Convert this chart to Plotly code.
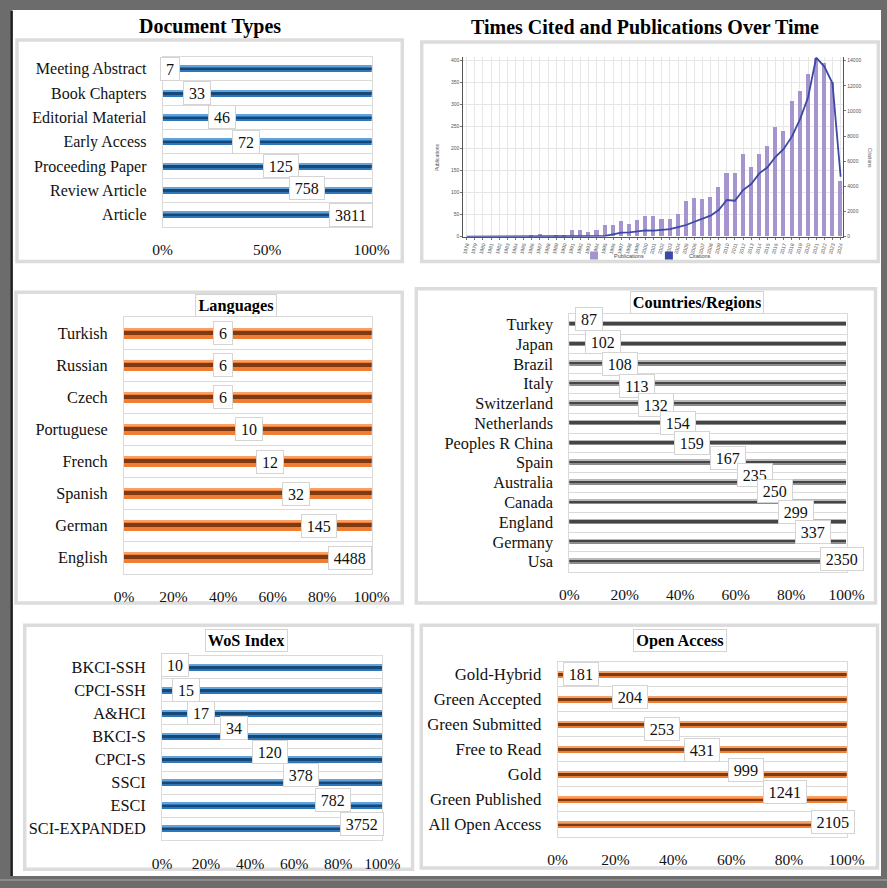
import plotly.graph_objects as go

W, H = 887, 888

# ---------------- DATA ----------------
doc_types = ["Meeting Abstract", "Book Chapters", "Editorial Material", "Early Access",
             "Proceeding Paper", "Review Article", "Article"]
doc_counts = [7, 33, 46, 72, 125, 758, 3811]
doc_share = [3.7, 16.4, 28.2, 40.0, 56.6, 68.9, 90.0]

languages = ["Turkish", "Russian", "Czech", "Portuguese", "French", "Spanish", "German", "English"]
lang_counts = [6, 6, 6, 10, 12, 32, 145, 4488]
lang_share = [39.8, 39.8, 40.0, 50.6, 59.0, 69.4, 78.6, 91.4]

countries = ["Turkey", "Japan", "Brazil", "Italy", "Switzerland", "Netherlands", "Peoples R China",
             "Spain", "Australia", "Canada", "England", "Germany", "Usa"]
country_counts = [87, 102, 108, 113, 132, 154, 159, 167, 235, 250, 299, 337, 2350]
country_share = [7.1, 12.3, 18.3, 24.3, 31.1, 39.3, 44.4, 57.3, 66.8, 74.0, 81.6, 88.0, 98.4]

wos_index = ["BKCI-SSH", "CPCI-SSH", "A&HCI", "BKCI-S", "CPCI-S", "SSCI", "ESCI", "SCI-EXPANDED"]
wos_counts = [10, 15, 17, 34, 120, 378, 782, 3752]
wos_share = [5.7, 11.0, 17.5, 32.5, 49.0, 63.0, 77.5, 91.0]

open_access = ["Gold-Hybrid", "Green Accepted", "Green Submitted", "Free to Read", "Gold",
               "Green Published", "All Open Access"]
oa_counts = [181, 204, 253, 431, 999, 1241, 2105]
oa_share = [8.2, 25.1, 36.2, 49.9, 65.2, 78.7, 95.2]

years = list(range(1978, 2025))
publications = [0, 0, 0, 0, 0, 0, 0, 0, 2, 6, 0, 2, 3, 14, 14, 10, 15, 25, 25, 34, 28, 37, 46, 46,
                40, 40, 50, 80, 87, 85, 90, 113, 143, 143, 188, 158, 188, 205, 248, 240, 307, 330,
                370, 405, 395, 350, 127]
citations = [0, 0, 0, 0, 0, 0, 0, 0, 0, 0, 0, 0, 0, 0, 0, 0, 0, 60, 185, 320, 345, 450, 500, 480,
             560, 610, 770, 930, 1190, 1400, 1670, 2120, 2920, 2860, 3710, 4190, 5040, 5520, 6360,
             6980, 7960, 9340, 11090, 14250, 13530, 12200, 4770]

pct_ticks_doc = [0, 50, 100]
pct_ticks = [0, 20, 40, 60, 80, 100]
pub_ticks = [0, 50, 100, 150, 200, 250, 300, 350, 400]
cite_ticks = [0, 2000, 4000, 6000, 8000, 10000, 12000, 14000]

# ---------------- helpers ----------------
def fx(x):
    return x / W

def fy(y):
    return 1 - y / H

SERIF = "Liberation Serif, Times New Roman, serif"
SANS = "Liberation Sans, Arial, sans-serif"

fig = go.Figure()
shapes = []
annotations = []
layout_axes = {}

BLUE = dict(base="#2e77bb", stripe="#164878", hi="#62a3dc")
ORANGE = dict(base="#ee7e33", stripe="#7e3a10", hi="#f5a26a")
GRAY = dict(base="#8c8c8c", stripe="#454545", hi="#b8b8b8")

panels = [
    dict(k=1, cats=doc_types, counts=doc_counts, share=doc_share, col=BLUE,
         box=(162.7, 371.7, 56.6, 226.8), bar_px=6.5, ticks=pct_ticks_doc, cat_font=16,
         lab_font=16, dy=[0, 0, 0, 0, 0, 2, 0]),
    dict(k=3, cats=languages, counts=lang_counts, share=lang_share, col=ORANGE,
         box=(124.0, 371.7, 317.3, 573.7), bar_px=11, ticks=pct_ticks, cat_font=16.3,
         lab_font=16, dy=[0] * 8),
    dict(k=4, cats=countries, counts=country_counts, share=country_share, col=GRAY,
         box=(569.3, 846.7, 314.4, 571.6), bar_px=5, ticks=pct_ticks, cat_font=16.3,
         lab_font=16, dy=[5, 2, 0, -2, -2, 0, 0, 5, 8, 11, 10, 10, 3]),
    dict(k=5, cats=wos_index, counts=wos_counts, share=wos_share, col=BLUE,
         box=(162.0, 382.3, 655.8, 840.2), bar_px=6.5, ticks=pct_ticks, cat_font=16.3,
         lab_font=16, dy=[2, 0, 0, 8, 8, 8, 6, 5]),
    dict(k=6, cats=open_access, counts=oa_counts, share=oa_share, col=ORANGE,
         box=(557.7, 846.7, 661.5, 836.8), bar_px=6.5, ticks=pct_ticks, cat_font=16.8,
         lab_font=16.3, dy=[0, 2, -5, -1, 4, 7, 2]),
]

for p in panels:
    k = p["k"]
    xa = "x" if k == 1 else f"x{k}"
    ya = "y" if k == 1 else f"y{k}"
    n = len(p["cats"])
    rows = list(range(n))
    x0, x1, y0, y1 = p["box"]
    row_px = (y1 - y0) / n
    w = p["bar_px"] / row_px
    seg_y = rows + rows
    seg_x = list(p["share"]) + [100 - s for s in p["share"]]
    seg_base = [0] * n + list(p["share"])
    c = p["col"]
    fig.add_bar(y=seg_y, x=seg_x, base=seg_base, orientation="h", width=w,
                marker=dict(color=c["base"], line=dict(width=0)),
                xaxis=xa, yaxis=ya, showlegend=False, hoverinfo="skip")
    fig.add_bar(y=seg_y, x=seg_x, base=seg_base, orientation="h", width=w * 0.22,
                offset=-w / 2, marker=dict(color=c["hi"], line=dict(width=0)),
                xaxis=xa, yaxis=ya, showlegend=False, hoverinfo="skip")
    fig.add_bar(y=seg_y, x=seg_x, base=seg_base, orientation="h", width=w * 0.38,
                marker=dict(color=c["stripe"], line=dict(width=0)),
                xaxis=xa, yaxis=ya, showlegend=False, hoverinfo="skip")

    kx = "xaxis" if k == 1 else f"xaxis{k}"
    ky = "yaxis" if k == 1 else f"yaxis{k}"
    layout_axes[kx] = dict(
        domain=[fx(x0), fx(x1)], anchor=ya, range=[0, 100], tickvals=p["ticks"],
        ticktext=[f"{t}%" for t in p["ticks"]], showgrid=False, zeroline=False,
        showline=True, mirror=True,
        linecolor="#dadada", linewidth=1, tickfont=dict(family=SERIF, size=15.5, color="#111"),
        ticklabelstandoff=9, fixedrange=True)
    layout_axes[ky] = dict(
        domain=[fy(y1), fy(y0)], anchor=xa, range=[n - 0.5, -0.5], tickvals=rows,
        ticktext=p["cats"], showgrid=False, zeroline=False, showline=True, mirror=True,
        linecolor="#dadada", linewidth=1, ticks="",
        minor=dict(tick0=0.5, dtick=1, showgrid=True, gridcolor="#dadada", gridwidth=1),
        tickfont=dict(family=SERIF, size=p["cat_font"], color="#111"),
        ticklabelstandoff=12, fixedrange=True)

    for i in range(n):
        txt = str(p["counts"][i])
        annotations.append(dict(
            x=p["share"][i], y=rows[i], xref=xa, yref=ya, text=txt, showarrow=False,
            xanchor="center", yanchor="middle",
            font=dict(family=SERIF, size=p["lab_font"], color="#111"),
            bgcolor="white", bordercolor="#d4d4d4", borderwidth=1, borderpad=2,
            width=len(txt) * 7.9 + 6, height=18, yshift=p["dy"][i]))

# ---------------- Time chart ----------------
TX0, TX1, TY0, TY1 = 463.3, 843.3, 57.3, 236.7
PUB_COL = "#a594cd"
CIT_COL = "#3a49a5"
fig.add_bar(x=years, y=publications, xaxis="x2", yaxis="y2", width=0.5,
            marker=dict(color=PUB_COL, line=dict(width=0)), name="Publications",
            showlegend=False)
fig.add_scatter(x=years, y=citations, xaxis="x2", yaxis="y7", mode="lines",
                line=dict(color=CIT_COL, width=1.8), showlegend=False, name="Citations")
# legend keys (square swatches as in the original)
for nm, col in [("Publications", PUB_COL), ("Citations", CIT_COL)]:
    fig.add_scatter(x=[None], y=[None], xaxis="x2", yaxis="y2", mode="markers", name=nm,
                    marker=dict(symbol="square", size=8, color=col), showlegend=True)

tick_small = dict(family=SANS, size=5, color="#555")
layout_axes["xaxis2"] = dict(
    domain=[fx(TX0), fx(TX1)], anchor="y2", range=[1977.58, 2024.33],
    tickvals=years, ticktext=[str(y) for y in years], tickangle=-75, tickfont=tick_small,
    showgrid=True, gridcolor="#e6e6e6", gridwidth=1, zeroline=False, showline=True,
    linecolor="#555", linewidth=1, ticks="outside", ticklen=2, tickcolor="#777", fixedrange=True)
layout_axes["yaxis2"] = dict(
    domain=[fy(TY1), fy(TY0)], anchor="x2", range=[0, 407.7], tickvals=pub_ticks,
    tickfont=tick_small, showgrid=True, gridcolor="#e6e6e6", zeroline=False, showline=True,
    linecolor="#555", linewidth=1, ticks="outside", ticklen=2, tickcolor="#777", fixedrange=True)
layout_axes["yaxis7"] = dict(
    domain=[fy(TY1), fy(TY0)], anchor="x2", overlaying="y2", side="right",
    range=[0, 14270], tickvals=cite_ticks, ticktext=[str(t) for t in cite_ticks],
    tickfont=tick_small, showgrid=False,
    zeroline=False, showline=True, linecolor="#555", linewidth=1, ticks="outside",
    ticklen=2, tickcolor="#777", fixedrange=True)

def pann(text, x, y, font, **kw):
    d = dict(x=fx(x), y=fy(y), xref="paper", yref="paper", text=text, showarrow=False,
             xanchor="center", yanchor="middle", font=font)
    d.update(kw)
    annotations.append(d)

pann("Publications", 437, 158, dict(family=SANS, size=5, color="#555"), textangle=-90)
pann("Citations", 870, 158, dict(family=SANS, size=5, color="#555"), textangle=90)

# ---------------- Titles ----------------
pann("<b>Document Types</b>", 210, 26, dict(family=SERIF, size=20, color="#000"))
pann("<b>Times Cited and Publications Over Time</b>", 645, 27, dict(family=SERIF, size=20, color="#000"))
for txt, cx, cy, wd in [("Languages", 236, 306, 76), ("Countries/Regions", 697, 302.5, 128),
                        ("WoS Index", 247, 640, 77), ("Open Access", 680, 640, 88)]:
    pann(f"<b>{txt}</b>", cx, cy, dict(family=SERIF, size=16.3, color="#000"),
         bgcolor="white", bordercolor="#d4d4d4", borderwidth=1, borderpad=2, width=wd, height=17)

# ---------------- Frame & panel boxes ----------------
def rect(x0, x1, y0, y1, **kw):
    d = dict(type="rect", xref="paper", yref="paper", x0=fx(x0), x1=fx(x1), y0=fy(y1), y1=fy(y0))
    d.update(kw)
    return d

shapes.append(rect(0, W, 0, H, fillcolor="#6c6c6c", line=dict(width=0), layer="below"))
shapes.append(rect(12.5, 881, 10, 876, fillcolor="white", line=dict(width=0), layer="below"))
shapes.append(rect(10.5, 12.8, 11, 876, fillcolor="#1e1e1e", line=dict(width=0), layer="below"))
shapes.append(rect(0, W, 879, 881, fillcolor="#8c8c8c", line=dict(width=0), layer="below"))

box_line = dict(color="#dcdcdc", width=3.5)
for b in [(17, 402.3, 40, 261.5), (421.7, 878.3, 42, 261.5), (16, 402.3, 292.3, 603),
          (416.3, 875.5, 288.8, 603), (24.7, 412.5, 625.3, 869.3), (421.3, 877.5, 625.3, 868)]:
    shapes.append(rect(b[0], b[1], b[2], b[3], line=box_line, fillcolor="rgba(0,0,0,0)", layer="below"))

fig.update_layout(
    width=W, height=H, autosize=False, margin=dict(l=0, r=0, t=0, b=0),
    paper_bgcolor="white", plot_bgcolor="white", barmode="overlay", bargap=0,
    template="none", showlegend=True,
    legend=dict(orientation="h", x=fx(645), y=fy(255.5), xanchor="center", yanchor="middle",
                font=dict(family=SANS, size=5.5, color="#444"), bgcolor="rgba(0,0,0,0)",
                itemsizing="trace", itemwidth=30, tracegroupgap=0),
    shapes=shapes, annotations=annotations, **layout_axes)

fig.write_html("out.html", config={"displayModeBar": False},
               post_script="document.body.style.margin='0';")
